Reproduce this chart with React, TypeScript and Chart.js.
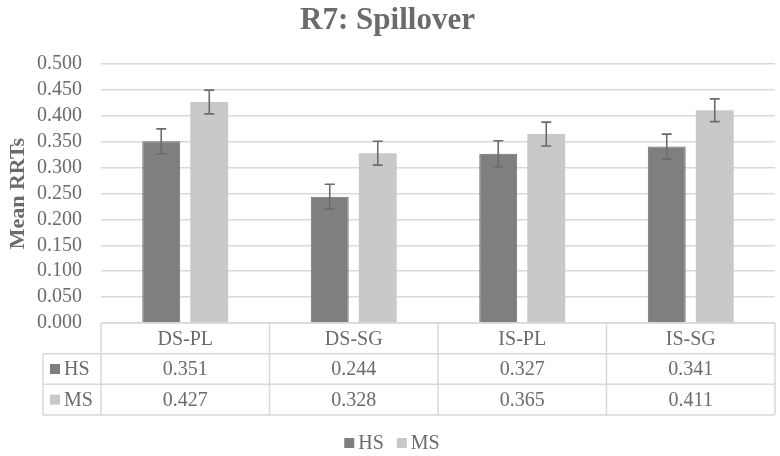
import { Chart, registerables } from 'chart.js';
import { useEffect, useRef } from 'react';

Chart.register(...registerables);

const categories = ['DS-PL', 'DS-SG', 'IS-PL', 'IS-SG'];
const seriesNames = ['HS', 'MS'];
const hsValues = [0.351, 0.244, 0.327, 0.341];
const msValues = [0.427, 0.328, 0.365, 0.411];
const hsErrors = [0.024, 0.024, 0.025, 0.024];
const msErrors = [0.023, 0.023, 0.023, 0.022];

const hsColor = '#7f7f7f';
const msColor = '#c9c9c9';
const textColor = '#6b6b6b';
const lineColor = '#d9d9d9';
const serif = "'Liberation Serif', 'Times New Roman', serif";

// whiskers on top of each bar
const errorBars = {
	id: 'errorBars',
	afterDatasetsDraw(chart: any) {
		const { ctx, scales } = chart;
		const errs = [hsErrors, msErrors];
		chart.data.datasets.forEach((ds: any, di: number) => {
			const meta = chart.getDatasetMeta(di);
			meta.data.forEach((bar: any, i: number) => {
				const v = ds.data[i];
				const yTop = scales.y.getPixelForValue(v + errs[di][i]);
				const yBot = scales.y.getPixelForValue(v - errs[di][i]);
				ctx.save();
				ctx.strokeStyle = '#6b6b6b';
				ctx.lineWidth = 1.6;
				ctx.beginPath();
				ctx.moveTo(bar.x, yTop);
				ctx.lineTo(bar.x, yBot);
				ctx.moveTo(bar.x - 5, yTop);
				ctx.lineTo(bar.x + 5, yTop);
				ctx.moveTo(bar.x - 5, yBot);
				ctx.lineTo(bar.x + 5, yBot);
				ctx.stroke();
				ctx.restore();
			});
		});
	},
};

// data table under the plot (in the x axis box) and the legend below it
const dataTable = {
	id: 'dataTable',
	afterDraw(chart: any) {
		const { ctx, chartArea, scales } = chart;
		const xs = scales.x;
		const left = chartArea.left;
		const right = chartArea.right;
		const top = chartArea.bottom;
		const rowH = (xs.bottom - xs.top) / 3;
		const keyLeft = 43;
		const colW = (right - left) / categories.length;
		const rows = [top, top + rowH, top + rowH * 2, top + rowH * 3];
		const colors = [hsColor, msColor];

		ctx.save();
		ctx.strokeStyle = lineColor;
		ctx.lineWidth = 1.5;
		ctx.beginPath();
		ctx.moveTo(left, rows[0]);
		ctx.lineTo(right, rows[0]);
		for (let r = 1; r < 4; r++) {
			ctx.moveTo(keyLeft, rows[r]);
			ctx.lineTo(right, rows[r]);
		}
		for (let c = 0; c <= categories.length; c++) {
			const x = left + c * colW;
			ctx.moveTo(x, rows[0]);
			ctx.lineTo(x, rows[3]);
		}
		ctx.moveTo(keyLeft, rows[1]);
		ctx.lineTo(keyLeft, rows[3]);
		ctx.stroke();

		ctx.fillStyle = textColor;
		ctx.font = `20px ${serif}`;
		ctx.textAlign = 'center';
		ctx.textBaseline = 'middle';
		categories.forEach((cat, i) => {
			const cx = xs.getPixelForValue(i);
			ctx.fillText(cat, cx, rows[0] + rowH / 2 + 1);
			ctx.fillText(hsValues[i].toFixed(3), cx, rows[1] + rowH / 2 + 1);
			ctx.fillText(msValues[i].toFixed(3), cx, rows[2] + rowH / 2 + 1);
		});

		ctx.textAlign = 'left';
		colors.forEach((col, r) => {
			const cy = rows[r + 1] + rowH / 2;
			ctx.fillStyle = col;
			ctx.fillRect(keyLeft + 7, cy - 5, 10, 10);
			ctx.fillStyle = textColor;
			ctx.fillText(seriesNames[r], keyLeft + 21, cy + 1);
		});

		// legend
		const ly = rows[3] + 28;
		const itemW = seriesNames.map((n) => 14 + ctx.measureText(n).width);
		const gap = 13;
		const total = itemW[0] + itemW[1] + gap;
		let lx = (chart.width - total) / 2 + 2;
		seriesNames.forEach((n, r) => {
			ctx.fillStyle = colors[r];
			ctx.fillRect(lx, ly - 5, 10, 10);
			ctx.fillStyle = textColor;
			ctx.fillText(n, lx + 14, ly + 1);
			lx += itemW[r] + gap;
		});
		ctx.restore();
	},
};

export default function App() {
	const canvasRef = useRef<HTMLCanvasElement | null>(null);

	useEffect(() => {
		if (!canvasRef.current) return;
		const chart = new Chart(canvasRef.current, {
			type: 'bar',
			data: {
				labels: categories,
				datasets: [
					{
						label: seriesNames[0],
						data: hsValues,
						backgroundColor: hsColor,
						borderColor: '#6e6e6e',
						borderWidth: 1,
						categoryPercentage: 0.57,
						barPercentage: 0.79,
					},
					{
						label: seriesNames[1],
						data: msValues,
						backgroundColor: msColor,
						borderWidth: 0,
						categoryPercentage: 0.57,
						barPercentage: 0.79,
					},
				],
			},
			options: {
				animation: false,
				responsive: true,
				maintainAspectRatio: false,
				layout: { padding: { right: 5, bottom: 41 } },
				plugins: {
					title: {
						display: true,
						text: 'R7: Spillover',
						color: textColor,
						font: { family: serif, size: 31, weight: 'bold' },
						padding: { top: 2, bottom: 25 },
					},
					legend: { display: false },
					tooltip: { enabled: false },
				},
				scales: {
					x: {
						grid: { display: false },
						border: { display: false },
						ticks: { display: false },
						afterFit: (scale: any) => {
							scale.height = 92;
						},
					},
					y: {
						min: 0,
						max: 0.5,
						ticks: {
							stepSize: 0.05,
							autoSkip: false,
							color: textColor,
							font: { family: serif, size: 20 },
							padding: 19,
							callback: (v: any) => Number(v).toFixed(3),
						},
						grid: { color: lineColor, lineWidth: 1.5, drawTicks: false },
						border: { display: false },
						title: {
							display: true,
							text: 'Mean RRTs',
							color: textColor,
							font: { family: serif, size: 22, weight: 'bold' },
							padding: { top: 5, bottom: 0 },
						},
						afterFit: (scale: any) => {
							scale.width = 101;
						},
					},
				},
			},
			plugins: [errorBars, dataTable],
		});
		return () => chart.destroy();
	}, []);

	return (
		<div style={{ position: 'fixed', top: 0, left: 0, width: 780, height: 456, background: '#fff' }}>
			<canvas ref={canvasRef}></canvas>
		</div>
	);
}
